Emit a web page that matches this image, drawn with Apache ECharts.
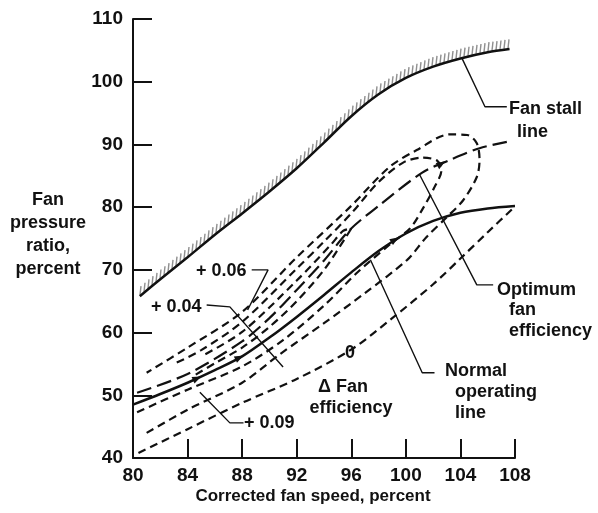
<!DOCTYPE html>
<html>
<head>
<meta charset="utf-8">
<script src="https://cdn.jsdelivr.net/npm/echarts@6/dist/echarts.min.js"></script>
<style>
  html, body { margin: 0; padding: 0; background: #fff; }
  #chart { width: 598px; height: 513px; }
</style>
</head>
<body>
<div id="chart"></div>
<script>
// 坐标轴刻度
var xTicks = [80, 84, 88, 92, 96, 100, 104, 108];
var yTicks = [40, 50, 60, 70, 80, 90, 100, 110];

// 风扇失速线
var stallLine = [[80.5, 65.8], [82, 68.5], [84, 72], [86, 75.6], [88, 79], [90, 82.5], [92, 86.2],
  [94, 90.3], [96, 94.5], [98, 98], [100, 100.6], [102, 102.4], [104, 103.7], [106, 104.7], [107.6, 105.2]];

// 正常工作线
var operatingLine = [[80, 48.5], [82, 50.2], [84, 52], [86, 54], [88, 56.2], [90, 59.2], [92, 62.5],
  [94, 66], [96, 69.6], [98, 73], [100, 75.8], [102, 77.8], [104, 79.1], [106, 79.8], [108, 80.2]];

// 最佳效率线
var optimumLine = [[80.3, 50.4], [84, 53.4], [88, 58.6], [90, 62.3], [92, 66.8], [94, 71.5], [95.9, 76.4],
  [98, 80.2], [101.2, 85.5], [103.2, 87.5], [105.4, 89.4], [107.4, 90.4]];

// 效率等值线
var contourZero = [[80.4, 40.8], [84, 44.6], [88, 48.8], [92, 52.6], [96, 57.3], [99, 62.3], [102, 67.7],
  [104, 71.8], [106, 76], [108, 80.1]];
var contourOuter = [[81, 44], [84, 47.7], [88, 52], [90.8, 56.6], [94, 61.5], [97, 66.3], [100.1, 71.6],
  [101.5, 75.2], [103, 78.4], [104.2, 81.1], [105.2, 84.8], [105.4, 87.5], [105.2, 90.2], [104.5, 91.5],
  [103.2, 91.6], [100.8, 89.1], [98.8, 86.4], [95.9, 80], [92, 72], [88, 63.3], [84, 57.6], [81, 53.6]];
var contourMiddle = [[80.3, 47.3], [84, 50.9], [88, 54.6], [91, 58.8], [94, 64.3], [96.5, 69.7], [98.8, 74],
  [100.3, 76.6], [101.2, 79.6], [102.1, 83.2], [102.6, 85.8], [102.3, 87.4], [101.2, 87.9], [99.8, 87.1],
  [98, 84], [96, 79], [94, 74.5], [92, 70.2], [88, 61.7], [85, 57.2], [83, 55]];
var contourInner = [[84.6, 53.3], [86, 55.1], [88, 57.6], [90, 60.9], [92, 65], [94, 70], [95.6, 75.2],
  [96, 76.6], [95.4, 76.2], [94.5, 74], [92, 68.3], [88, 60.1], [85, 56.2]];

// 方向箭头 [x, y, 角度]
var operatingArrows = [[84.7, 52.7, 25], [87.8, 56, 27], [99.2, 74.8, 32]];
var optimumArrows = [[102.6, 86.9, 30]];

// 引线
var stallLeader = [[104.1, 103.8], [105.8, 96], [107.4, 96]];
var optimumLeader = [[101, 85.2], [105.2, 67.6], [106.4, 67.6]];
var normalLeader = [[97.4, 71.6], [101.2, 53.6], [102.1, 53.6]];
var leader006 = [[88.7, 70], [89.9, 70], [88.4, 63.6]];
var leader004 = [[85.4, 64.4], [87.1, 64.1], [91, 54.5]];
var leader009 = [[84.9, 50.5], [87.1, 45.6], [88.1, 45.6]];

var FONT = '"Liberation Sans", Arial, sans-serif';
var INK = '#111';

var chart = echarts.init(document.getElementById('chart'));

// 失速线上方的阴影短线
function hatchItem(params, api) {
  var i = params.dataIndex;
  if (i >= stallLine.length - 1) return;
  var p0 = api.coord(stallLine[i]);
  var p1 = api.coord(stallLine[i + 1]);
  var step = 4;
  var children = [];
  for (var x = Math.ceil(p0[0] / step) * step; x < p1[0]; x += step) {
    var y = p0[1] + (p1[1] - p0[1]) * (x - p0[0]) / (p1[0] - p0[0]);
    children.push({
      type: 'line',
      shape: { x1: x, y1: y - 1, x2: x + 1, y2: y - 10 },
      style: { stroke: '#8f8f8f', lineWidth: 1.4 }
    });
  }
  return { type: 'group', children: children };
}

function arrowPoints(list) {
  return {
    silent: true, symbol: 'triangle', symbolSize: [7, 9],
    itemStyle: { color: INK }, label: { show: false },
    data: list.map(function (a) { return { coord: [a[0], a[1]], symbolRotate: a[2] - 90 }; })
  };
}

function dashed(data, dash) {
  return {
    type: 'line', data: data, smooth: 0.3, symbol: 'none', silent: true,
    lineStyle: { color: INK, width: 2.2, type: dash || [8, 5] }
  };
}

function leader(data) {
  return {
    type: 'line', data: data, symbol: 'none', silent: true,
    lineStyle: { color: INK, width: 1.4 }
  };
}

function label(text, x, y, align, size) {
  return {
    type: 'text', x: x, y: y,
    style: {
      text: text, font: 'bold ' + (size || 18) + 'px ' + FONT, fill: INK,
      align: align || 'left', verticalAlign: 'middle'
    }
  };
}

var optimumSeries = dashed(optimumLine, [15, 6]);
optimumSeries.markPoint = arrowPoints(optimumArrows);

chart.setOption({
  animation: false,
  grid: { left: 133, right: 83, top: 19, bottom: 55 },
  xAxis: {
    type: 'value', min: xTicks[0], max: xTicks[xTicks.length - 1], interval: 4,
    axisLine: { lineStyle: { color: INK, width: 2 } },
    axisTick: { inside: true, length: 19, lineStyle: { color: INK, width: 2 } },
    axisLabel: { color: INK, fontSize: 19, fontWeight: 'bold', fontFamily: FONT, margin: 8 },
    splitLine: { show: false }
  },
  yAxis: {
    type: 'value', min: yTicks[0], max: yTicks[yTicks.length - 1], interval: 10,
    axisLine: { show: true, lineStyle: { color: INK, width: 2 } },
    axisTick: { show: true, inside: true, length: 19, lineStyle: { color: INK, width: 2 } },
    axisLabel: { color: INK, fontSize: 19, fontWeight: 'bold', fontFamily: FONT, margin: 10 },
    splitLine: { show: false }
  },
  series: [
    {
      type: 'custom', data: stallLine, renderItem: hatchItem, silent: true,
      encode: { x: 0, y: 1 }
    },
    {
      type: 'line', data: stallLine, smooth: 0.3, symbol: 'none', silent: true,
      lineStyle: { color: INK, width: 2.5 }
    },
    {
      type: 'line', data: operatingLine, smooth: 0.3, symbol: 'none', silent: true,
      lineStyle: { color: INK, width: 2.5 },
      markPoint: arrowPoints(operatingArrows)
    },
    optimumSeries,
    dashed(contourZero),
    dashed(contourOuter),
    dashed(contourMiddle),
    dashed(contourInner),
    leader(stallLeader),
    leader(optimumLeader),
    leader(normalLeader),
    leader(leader006),
    leader(leader004),
    leader(leader009)
  ],
  graphic: [
    label('Fan', 48, 200, 'center'),
    label('pressure', 48, 223, 'center'),
    label('ratio,', 48, 246, 'center'),
    label('percent', 48, 269, 'center'),
    label('Corrected fan speed, percent', 313, 496, 'center', 17),
    label('Fan stall', 509, 109),
    label('line', 517, 132),
    label('Optimum', 497, 290),
    label('fan', 509, 310),
    label('efficiency', 509, 331),
    label('Normal', 445, 371),
    label('operating', 455, 392),
    label('line', 455, 413),
    label('0', 350, 353, 'center'),
    label('\u0394 Fan', 343, 387, 'center'),
    label('efficiency', 351, 408, 'center'),
    label('+ 0.09', 244, 423),
    label('+ 0.06', 196, 271),
    label('+ 0.04', 151, 307)
  ]
});
</script>
</body>
</html>
